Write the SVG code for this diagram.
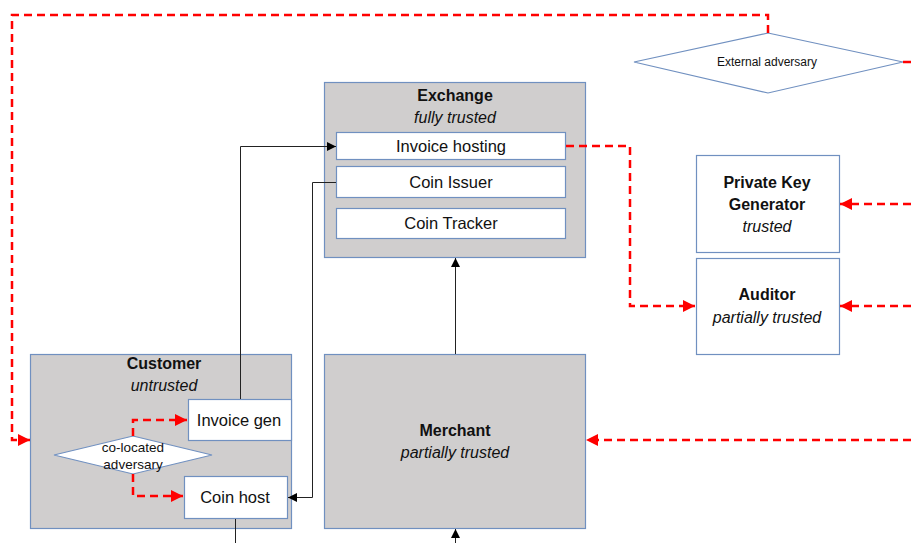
<svg xmlns="http://www.w3.org/2000/svg" width="911" height="543" viewBox="0 0 911 543">
  <style>
    .box { fill: #D0CECE; stroke: #7090C0; stroke-width: 1.2; }
    .sub { fill: #FFFFFF; stroke: #7090C0; stroke-width: 1.2; }
    .dia { fill: #FFFFFF; stroke: #7090C0; stroke-width: 1.2; }
    text { font-family: "Liberation Sans", Arial, sans-serif; fill: #111; text-anchor: middle; }
    .t { font-size: 16px; font-weight: bold; }
    .i { font-size: 16px; font-style: italic; }
    .l { font-size: 16.5px; }
    .s { font-size: 12px; }
    .m { font-size: 13.5px; }
    .red { fill: none; stroke: #FF0000; stroke-width: 2.5; stroke-dasharray: 8 5; }
    .blk { fill: none; stroke: #222; stroke-width: 1; }
  </style>
  <defs>
    <marker id="ra" viewBox="0 0 10 10" refX="10" refY="5" markerWidth="5.2" markerHeight="4.8" markerUnits="strokeWidth" orient="auto">
      <path d="M0,0 L10,5 L0,10 z" fill="#FF0000"/>
    </marker>
    <marker id="ba" viewBox="0 0 10 10" refX="10" refY="5" markerWidth="9" markerHeight="9" markerUnits="userSpaceOnUse" orient="auto">
      <path d="M0,0 L10,5 L0,10 z" fill="#000"/>
    </marker>
  </defs>

  <g id="exchange">
    <rect class="box" x="324.5" y="82.5" width="261" height="175"/>
    <text class="t" x="455" y="101">Exchange</text>
    <text class="i" x="455" y="123">fully trusted</text>
  </g>
  <g id="invoice-hosting">
    <rect class="sub" x="336.5" y="132.5" width="229" height="27"/>
    <text class="l" x="451" y="152">Invoice hosting</text>
  </g>
  <g id="coin-issuer">
    <rect class="sub" x="336.5" y="166.5" width="229" height="31"/>
    <text class="l" x="451" y="188">Coin Issuer</text>
  </g>
  <g id="coin-tracker">
    <rect class="sub" x="336.5" y="208.5" width="229" height="30"/>
    <text class="l" x="451" y="229">Coin Tracker</text>
  </g>

  <g id="external-adversary">
    <polygon class="dia" points="768,33 903,62 768,93 634,62"/>
    <text class="s" x="767" y="66">External adversary</text>
  </g>

  <g id="private-key-generator">
    <rect class="sub" x="696.5" y="155.5" width="143" height="97"/>
    <text class="t" x="767" y="188">Private Key</text>
    <text class="t" x="767" y="210">Generator</text>
    <text class="i" x="767" y="232">trusted</text>
  </g>
  <g id="auditor">
    <rect class="sub" x="696.5" y="258.5" width="143" height="96"/>
    <text class="t" x="767" y="300">Auditor</text>
    <text class="i" x="767" y="323">partially trusted</text>
  </g>

  <g id="customer">
    <rect class="box" x="30.5" y="354.5" width="261" height="174"/>
    <text class="t" x="164" y="369">Customer</text>
    <text class="i" x="164" y="391">untrusted</text>
  </g>
  <g id="invoice-gen">
    <rect class="sub" x="188.5" y="399.5" width="103" height="41"/>
    <text class="l" x="239" y="426">Invoice gen</text>
  </g>
  <g id="coin-host">
    <rect class="sub" x="184.5" y="476.5" width="103" height="42"/>
    <text class="l" x="235" y="503">Coin host</text>
  </g>
  <g id="co-located-adversary">
    <polygon class="dia" points="133,436 212,455 133,474 54,455"/>
    <text class="m" x="133" y="452">co-located</text>
    <text class="m" x="133" y="469">adversary</text>
  </g>

  <g id="merchant">
    <rect class="box" x="324.5" y="354.5" width="261" height="174"/>
    <text class="t" x="455" y="436">Merchant</text>
    <text class="i" x="455" y="458">partially trusted</text>
  </g>

  <g id="connectors">
    <!-- attack paths -->
    <path class="red" d="M768,33 V15 H12 V440 H30" marker-end="url(#ra)"/>
    <path class="red" d="M903,62 H911"/>
    <path class="red" d="M566,146 H630 V306 H695" marker-end="url(#ra)"/>
    <path class="red" d="M911,204 H840" marker-end="url(#ra)"/>
    <path class="red" d="M911,306 H840" marker-end="url(#ra)"/>
    <path class="red" d="M911,440 H586" marker-end="url(#ra)"/>
    <path class="red" d="M133,436 V420 H187" marker-end="url(#ra)"/>
    <path class="red" d="M133,474 V496 H183" marker-end="url(#ra)"/>
    <!-- data flows -->
    <path class="blk" d="M240.5,399 V146.5 H336" marker-end="url(#ba)"/>
    <path class="blk" d="M336,182.5 H312.5 V497.5 H288" marker-end="url(#ba)"/>
    <path class="blk" d="M455.5,354 V258" marker-end="url(#ba)"/>
    <path class="blk" d="M455.5,543 V529" marker-end="url(#ba)"/>
    <path class="blk" d="M235.5,519 V543"/>
  </g>
</svg>
